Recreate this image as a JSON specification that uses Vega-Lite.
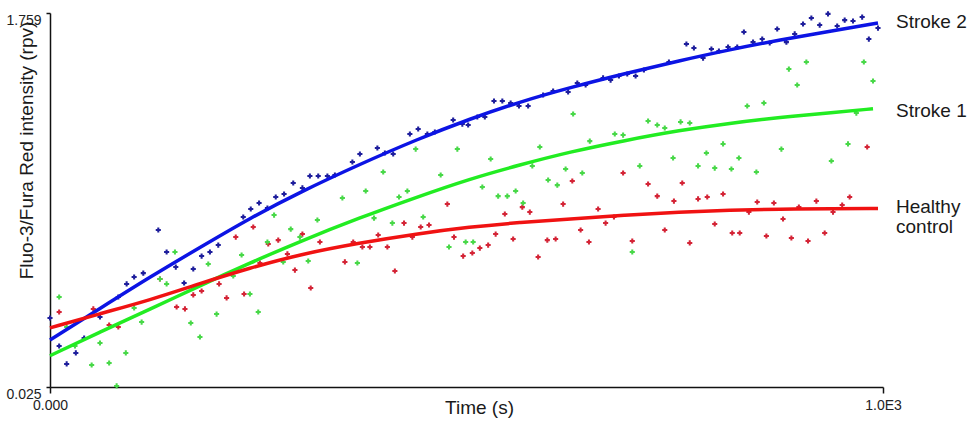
{
  "$schema": "https://vega.github.io/schema/vega-lite/v6.json",
  "autosize": {"type": "none"},
  "width": 833,
  "height": 374,
  "padding": {"left": 50, "top": 13, "right": 93, "bottom": 34},
  "background": "white",
  "config": {
    "view": {"stroke": null},
    "font": "Liberation Sans",
    "axis": {"grid": false, "domainColor": "#111", "domainWidth": 1.5, "tickColor": "#111", "tickWidth": 1.5, "labelColor": "#222", "titleColor": "#1a1a1a", "labelFont": "Liberation Sans", "titleFont": "Liberation Sans", "titleFontWeight": "normal"}
  },
  "datasets": {
    "curves": [
      {"series": "Stroke 2", "t": 0, "v": 0.243}, {"series": "Stroke 2", "t": 60, "v": 0.389}, {"series": "Stroke 2", "t": 120, "v": 0.535}, {"series": "Stroke 2", "t": 180, "v": 0.672}, {"series": "Stroke 2", "t": 240, "v": 0.808}, {"series": "Stroke 2", "t": 300, "v": 0.928}, {"series": "Stroke 2", "t": 372, "v": 1.058}, {"series": "Stroke 2", "t": 440, "v": 1.172}, {"series": "Stroke 2", "t": 504, "v": 1.268}, {"series": "Stroke 2", "t": 564, "v": 1.347}, {"series": "Stroke 2", "t": 624, "v": 1.413}, {"series": "Stroke 2", "t": 690, "v": 1.478}, {"series": "Stroke 2", "t": 756, "v": 1.538}, {"series": "Stroke 2", "t": 816, "v": 1.589}, {"series": "Stroke 2", "t": 876, "v": 1.634}, {"series": "Stroke 2", "t": 940, "v": 1.677}, {"series": "Stroke 2", "t": 994, "v": 1.713},
      {"series": "Stroke 1", "t": 0, "v": 0.17}, {"series": "Stroke 1", "t": 60, "v": 0.28}, {"series": "Stroke 1", "t": 120, "v": 0.385}, {"series": "Stroke 1", "t": 180, "v": 0.495}, {"series": "Stroke 1", "t": 240, "v": 0.6}, {"series": "Stroke 1", "t": 300, "v": 0.7}, {"series": "Stroke 1", "t": 372, "v": 0.81}, {"series": "Stroke 1", "t": 440, "v": 0.905}, {"series": "Stroke 1", "t": 504, "v": 0.99}, {"series": "Stroke 1", "t": 564, "v": 1.055}, {"series": "Stroke 1", "t": 624, "v": 1.115}, {"series": "Stroke 1", "t": 690, "v": 1.168}, {"series": "Stroke 1", "t": 756, "v": 1.215}, {"series": "Stroke 1", "t": 816, "v": 1.248}, {"series": "Stroke 1", "t": 876, "v": 1.275}, {"series": "Stroke 1", "t": 940, "v": 1.298}, {"series": "Stroke 1", "t": 988, "v": 1.315},
      {"series": "Healthy control", "t": 0, "v": 0.299}, {"series": "Healthy control", "t": 60, "v": 0.365}, {"series": "Healthy control", "t": 120, "v": 0.428}, {"series": "Healthy control", "t": 180, "v": 0.505}, {"series": "Healthy control", "t": 240, "v": 0.577}, {"series": "Healthy control", "t": 300, "v": 0.64}, {"series": "Healthy control", "t": 372, "v": 0.693}, {"series": "Healthy control", "t": 440, "v": 0.735}, {"series": "Healthy control", "t": 504, "v": 0.767}, {"series": "Healthy control", "t": 564, "v": 0.788}, {"series": "Healthy control", "t": 624, "v": 0.804}, {"series": "Healthy control", "t": 690, "v": 0.822}, {"series": "Healthy control", "t": 756, "v": 0.836}, {"series": "Healthy control", "t": 816, "v": 0.845}, {"series": "Healthy control", "t": 876, "v": 0.85}, {"series": "Healthy control", "t": 940, "v": 0.852}, {"series": "Healthy control", "t": 994, "v": 0.853}
    ],
    "dots": [
      {"series": "Stroke 2", "t": 0, "v": 0.345}, {"series": "Stroke 2", "t": 11, "v": 0.215}, {"series": "Stroke 2", "t": 20, "v": 0.132}, {"series": "Stroke 2", "t": 31, "v": 0.183}, {"series": "Stroke 2", "t": 41, "v": 0.252}, {"series": "Stroke 2", "t": 60, "v": 0.35}, {"series": "Stroke 2", "t": 82, "v": 0.442}, {"series": "Stroke 2", "t": 92, "v": 0.503}, {"series": "Stroke 2", "t": 101, "v": 0.535}, {"series": "Stroke 2", "t": 112, "v": 0.553}, {"series": "Stroke 2", "t": 130, "v": 0.753}, {"series": "Stroke 2", "t": 140, "v": 0.651}, {"series": "Stroke 2", "t": 151, "v": 0.581}, {"series": "Stroke 2", "t": 161, "v": 0.507}, {"series": "Stroke 2", "t": 172, "v": 0.572}, {"series": "Stroke 2", "t": 182, "v": 0.632}, {"series": "Stroke 2", "t": 192, "v": 0.651}, {"series": "Stroke 2", "t": 202, "v": 0.683}, {"series": "Stroke 2", "t": 232, "v": 0.813}, {"series": "Stroke 2", "t": 241, "v": 0.85}, {"series": "Stroke 2", "t": 251, "v": 0.878}, {"series": "Stroke 2", "t": 261, "v": 0.855}, {"series": "Stroke 2", "t": 271, "v": 0.906}, {"series": "Stroke 2", "t": 281, "v": 0.92}, {"series": "Stroke 2", "t": 292, "v": 0.971}, {"series": "Stroke 2", "t": 303, "v": 0.948}, {"series": "Stroke 2", "t": 312, "v": 1.003}, {"series": "Stroke 2", "t": 322, "v": 1.003}, {"series": "Stroke 2", "t": 333, "v": 1.003}, {"series": "Stroke 2", "t": 342, "v": 1.008}, {"series": "Stroke 2", "t": 363, "v": 1.068}, {"series": "Stroke 2", "t": 372, "v": 1.105}, {"series": "Stroke 2", "t": 393, "v": 1.133}, {"series": "Stroke 2", "t": 402, "v": 1.11}, {"series": "Stroke 2", "t": 412, "v": 1.105}, {"series": "Stroke 2", "t": 432, "v": 1.198}, {"series": "Stroke 2", "t": 442, "v": 1.221}, {"series": "Stroke 2", "t": 453, "v": 1.198}, {"series": "Stroke 2", "t": 462, "v": 1.207}, {"series": "Stroke 2", "t": 484, "v": 1.263}, {"series": "Stroke 2", "t": 495, "v": 1.244}, {"series": "Stroke 2", "t": 502, "v": 1.24}, {"series": "Stroke 2", "t": 513, "v": 1.277}, {"series": "Stroke 2", "t": 522, "v": 1.277}, {"series": "Stroke 2", "t": 533, "v": 1.351}, {"series": "Stroke 2", "t": 543, "v": 1.351}, {"series": "Stroke 2", "t": 553, "v": 1.342}, {"series": "Stroke 2", "t": 563, "v": 1.328}, {"series": "Stroke 2", "t": 574, "v": 1.328}, {"series": "Stroke 2", "t": 592, "v": 1.379}, {"series": "Stroke 2", "t": 604, "v": 1.397}, {"series": "Stroke 2", "t": 622, "v": 1.393}, {"series": "Stroke 2", "t": 633, "v": 1.434}, {"series": "Stroke 2", "t": 643, "v": 1.425}, {"series": "Stroke 2", "t": 664, "v": 1.458}, {"series": "Stroke 2", "t": 673, "v": 1.448}, {"series": "Stroke 2", "t": 683, "v": 1.467}, {"series": "Stroke 2", "t": 693, "v": 1.476}, {"series": "Stroke 2", "t": 703, "v": 1.467}, {"series": "Stroke 2", "t": 713, "v": 1.495}, {"series": "Stroke 2", "t": 743, "v": 1.532}, {"series": "Stroke 2", "t": 764, "v": 1.615}, {"series": "Stroke 2", "t": 773, "v": 1.597}, {"series": "Stroke 2", "t": 784, "v": 1.55}, {"series": "Stroke 2", "t": 794, "v": 1.592}, {"series": "Stroke 2", "t": 803, "v": 1.583}, {"series": "Stroke 2", "t": 814, "v": 1.601}, {"series": "Stroke 2", "t": 825, "v": 1.601}, {"series": "Stroke 2", "t": 833, "v": 1.671}, {"series": "Stroke 2", "t": 844, "v": 1.624}, {"series": "Stroke 2", "t": 855, "v": 1.638}, {"series": "Stroke 2", "t": 864, "v": 1.62}, {"series": "Stroke 2", "t": 873, "v": 1.685}, {"series": "Stroke 2", "t": 884, "v": 1.624}, {"series": "Stroke 2", "t": 894, "v": 1.662}, {"series": "Stroke 2", "t": 904, "v": 1.708}, {"series": "Stroke 2", "t": 914, "v": 1.736}, {"series": "Stroke 2", "t": 924, "v": 1.703}, {"series": "Stroke 2", "t": 934, "v": 1.755}, {"series": "Stroke 2", "t": 945, "v": 1.699}, {"series": "Stroke 2", "t": 954, "v": 1.726}, {"series": "Stroke 2", "t": 964, "v": 1.722}, {"series": "Stroke 2", "t": 975, "v": 1.74}, {"series": "Stroke 2", "t": 983, "v": 1.638}, {"series": "Stroke 2", "t": 994, "v": 1.689},
      {"series": "Healthy control", "t": 11, "v": 0.373}, {"series": "Healthy control", "t": 52, "v": 0.387}, {"series": "Healthy control", "t": 71, "v": 0.312}, {"series": "Healthy control", "t": 82, "v": 0.303}, {"series": "Healthy control", "t": 132, "v": 0.526}, {"series": "Healthy control", "t": 152, "v": 0.396}, {"series": "Healthy control", "t": 162, "v": 0.387}, {"series": "Healthy control", "t": 172, "v": 0.452}, {"series": "Healthy control", "t": 182, "v": 0.47}, {"series": "Healthy control", "t": 203, "v": 0.503}, {"series": "Healthy control", "t": 212, "v": 0.438}, {"series": "Healthy control", "t": 223, "v": 0.72}, {"series": "Healthy control", "t": 233, "v": 0.456}, {"series": "Healthy control", "t": 244, "v": 0.767}, {"series": "Healthy control", "t": 252, "v": 0.6}, {"series": "Healthy control", "t": 262, "v": 0.688}, {"series": "Healthy control", "t": 274, "v": 0.706}, {"series": "Healthy control", "t": 285, "v": 0.642}, {"series": "Healthy control", "t": 294, "v": 0.567}, {"series": "Healthy control", "t": 303, "v": 0.734}, {"series": "Healthy control", "t": 313, "v": 0.484}, {"series": "Healthy control", "t": 324, "v": 0.697}, {"series": "Healthy control", "t": 354, "v": 0.605}, {"series": "Healthy control", "t": 364, "v": 0.697}, {"series": "Healthy control", "t": 375, "v": 0.674}, {"series": "Healthy control", "t": 384, "v": 0.674}, {"series": "Healthy control", "t": 394, "v": 0.73}, {"series": "Healthy control", "t": 405, "v": 0.674}, {"series": "Healthy control", "t": 414, "v": 0.563}, {"series": "Healthy control", "t": 425, "v": 0.785}, {"series": "Healthy control", "t": 435, "v": 0.72}, {"series": "Healthy control", "t": 445, "v": 0.767}, {"series": "Healthy control", "t": 455, "v": 0.776}, {"series": "Healthy control", "t": 477, "v": 0.873}, {"series": "Healthy control", "t": 485, "v": 0.72}, {"series": "Healthy control", "t": 496, "v": 0.632}, {"series": "Healthy control", "t": 507, "v": 0.646}, {"series": "Healthy control", "t": 516, "v": 0.669}, {"series": "Healthy control", "t": 526, "v": 0.683}, {"series": "Healthy control", "t": 535, "v": 0.734}, {"series": "Healthy control", "t": 546, "v": 0.827}, {"series": "Healthy control", "t": 556, "v": 0.711}, {"series": "Healthy control", "t": 567, "v": 0.859}, {"series": "Healthy control", "t": 576, "v": 0.836}, {"series": "Healthy control", "t": 586, "v": 0.628}, {"series": "Healthy control", "t": 597, "v": 0.706}, {"series": "Healthy control", "t": 607, "v": 0.711}, {"series": "Healthy control", "t": 616, "v": 0.873}, {"series": "Healthy control", "t": 627, "v": 0.98}, {"series": "Healthy control", "t": 637, "v": 0.753}, {"series": "Healthy control", "t": 647, "v": 0.697}, {"series": "Healthy control", "t": 658, "v": 0.85}, {"series": "Healthy control", "t": 667, "v": 0.785}, {"series": "Healthy control", "t": 677, "v": 0.813}, {"series": "Healthy control", "t": 688, "v": 1.017}, {"series": "Healthy control", "t": 699, "v": 0.702}, {"series": "Healthy control", "t": 718, "v": 0.966}, {"series": "Healthy control", "t": 729, "v": 0.91}, {"series": "Healthy control", "t": 738, "v": 0.753}, {"series": "Healthy control", "t": 749, "v": 0.887}, {"series": "Healthy control", "t": 759, "v": 0.971}, {"series": "Healthy control", "t": 768, "v": 0.693}, {"series": "Healthy control", "t": 778, "v": 0.897}, {"series": "Healthy control", "t": 789, "v": 0.906}, {"series": "Healthy control", "t": 798, "v": 0.781}, {"series": "Healthy control", "t": 808, "v": 0.92}, {"series": "Healthy control", "t": 819, "v": 0.739}, {"series": "Healthy control", "t": 828, "v": 0.739}, {"series": "Healthy control", "t": 839, "v": 0.836}, {"series": "Healthy control", "t": 849, "v": 0.883}, {"series": "Healthy control", "t": 860, "v": 0.725}, {"series": "Healthy control", "t": 869, "v": 0.878}, {"series": "Healthy control", "t": 880, "v": 0.804}, {"series": "Healthy control", "t": 890, "v": 0.716}, {"series": "Healthy control", "t": 899, "v": 0.859}, {"series": "Healthy control", "t": 910, "v": 0.702}, {"series": "Healthy control", "t": 920, "v": 0.887}, {"series": "Healthy control", "t": 930, "v": 0.739}, {"series": "Healthy control", "t": 940, "v": 0.836}, {"series": "Healthy control", "t": 951, "v": 0.869}, {"series": "Healthy control", "t": 960, "v": 0.906}, {"series": "Healthy control", "t": 981, "v": 1.138},
      {"series": "Stroke 1", "t": 11, "v": 0.442}, {"series": "Stroke 1", "t": 20, "v": 0.303}, {"series": "Stroke 1", "t": 30, "v": 0.215}, {"series": "Stroke 1", "t": 50, "v": 0.127}, {"series": "Stroke 1", "t": 60, "v": 0.229}, {"series": "Stroke 1", "t": 71, "v": 0.136}, {"series": "Stroke 1", "t": 80, "v": 0.03}, {"series": "Stroke 1", "t": 91, "v": 0.183}, {"series": "Stroke 1", "t": 101, "v": 0.391}, {"series": "Stroke 1", "t": 110, "v": 0.326}, {"series": "Stroke 1", "t": 132, "v": 0.526}, {"series": "Stroke 1", "t": 140, "v": 0.503}, {"series": "Stroke 1", "t": 150, "v": 0.651}, {"series": "Stroke 1", "t": 169, "v": 0.322}, {"series": "Stroke 1", "t": 180, "v": 0.257}, {"series": "Stroke 1", "t": 190, "v": 0.595}, {"series": "Stroke 1", "t": 200, "v": 0.363}, {"series": "Stroke 1", "t": 220, "v": 0.54}, {"series": "Stroke 1", "t": 230, "v": 0.637}, {"series": "Stroke 1", "t": 240, "v": 0.456}, {"series": "Stroke 1", "t": 250, "v": 0.373}, {"series": "Stroke 1", "t": 261, "v": 0.697}, {"series": "Stroke 1", "t": 269, "v": 0.822}, {"series": "Stroke 1", "t": 280, "v": 0.605}, {"series": "Stroke 1", "t": 289, "v": 0.757}, {"series": "Stroke 1", "t": 300, "v": 0.72}, {"series": "Stroke 1", "t": 310, "v": 0.609}, {"series": "Stroke 1", "t": 321, "v": 0.799}, {"series": "Stroke 1", "t": 351, "v": 0.901}, {"series": "Stroke 1", "t": 369, "v": 0.6}, {"series": "Stroke 1", "t": 379, "v": 0.934}, {"series": "Stroke 1", "t": 389, "v": 0.808}, {"series": "Stroke 1", "t": 400, "v": 1.022}, {"series": "Stroke 1", "t": 411, "v": 0.785}, {"series": "Stroke 1", "t": 419, "v": 0.906}, {"series": "Stroke 1", "t": 429, "v": 0.934}, {"series": "Stroke 1", "t": 439, "v": 1.128}, {"series": "Stroke 1", "t": 448, "v": 0.813}, {"series": "Stroke 1", "t": 469, "v": 1.008}, {"series": "Stroke 1", "t": 479, "v": 0.674}, {"series": "Stroke 1", "t": 489, "v": 1.128}, {"series": "Stroke 1", "t": 499, "v": 0.697}, {"series": "Stroke 1", "t": 508, "v": 0.697}, {"series": "Stroke 1", "t": 519, "v": 0.952}, {"series": "Stroke 1", "t": 529, "v": 1.082}, {"series": "Stroke 1", "t": 538, "v": 0.91}, {"series": "Stroke 1", "t": 549, "v": 0.91}, {"series": "Stroke 1", "t": 559, "v": 0.934}, {"series": "Stroke 1", "t": 568, "v": 0.878}, {"series": "Stroke 1", "t": 579, "v": 1.05}, {"series": "Stroke 1", "t": 588, "v": 1.138}, {"series": "Stroke 1", "t": 598, "v": 0.985}, {"series": "Stroke 1", "t": 609, "v": 0.961}, {"series": "Stroke 1", "t": 619, "v": 1.036}, {"series": "Stroke 1", "t": 628, "v": 1.291}, {"series": "Stroke 1", "t": 639, "v": 1.017}, {"series": "Stroke 1", "t": 648, "v": 1.165}, {"series": "Stroke 1", "t": 678, "v": 1.198}, {"series": "Stroke 1", "t": 688, "v": 1.193}, {"series": "Stroke 1", "t": 699, "v": 0.651}, {"series": "Stroke 1", "t": 708, "v": 1.05}, {"series": "Stroke 1", "t": 718, "v": 1.258}, {"series": "Stroke 1", "t": 729, "v": 1.24}, {"series": "Stroke 1", "t": 738, "v": 1.226}, {"series": "Stroke 1", "t": 748, "v": 1.087}, {"series": "Stroke 1", "t": 757, "v": 1.254}, {"series": "Stroke 1", "t": 768, "v": 1.249}, {"series": "Stroke 1", "t": 778, "v": 1.05}, {"series": "Stroke 1", "t": 788, "v": 1.11}, {"series": "Stroke 1", "t": 798, "v": 1.04}, {"series": "Stroke 1", "t": 808, "v": 1.152}, {"series": "Stroke 1", "t": 818, "v": 1.036}, {"series": "Stroke 1", "t": 827, "v": 1.087}, {"series": "Stroke 1", "t": 837, "v": 1.328}, {"series": "Stroke 1", "t": 848, "v": 1.022}, {"series": "Stroke 1", "t": 857, "v": 1.342}, {"series": "Stroke 1", "t": 878, "v": 1.128}, {"series": "Stroke 1", "t": 887, "v": 1.499}, {"series": "Stroke 1", "t": 897, "v": 1.425}, {"series": "Stroke 1", "t": 908, "v": 1.532}, {"series": "Stroke 1", "t": 938, "v": 1.073}, {"series": "Stroke 1", "t": 958, "v": 1.152}, {"series": "Stroke 1", "t": 968, "v": 1.295}, {"series": "Stroke 1", "t": 977, "v": 1.532}, {"series": "Stroke 1", "t": 988, "v": 1.444}
    ],
    "labels": [
      {"label": "Stroke 2", "t": 1000, "v": 1.719},
      {"label": "Stroke 1", "t": 1000, "v": 1.305},
      {"label": "Healthy\ncontrol", "t": 1000, "v": 0.859}
    ]
  },
  "layer": [
    {
      "data": {"name": "dots"},
      "mark": {"type": "point", "shape": "cross", "filled": true, "size": 26, "opacity": 1},
      "encoding": {
        "x": {"field": "t", "type": "quantitative", "scale": {"domain": [0, 1000], "nice": false, "zero": false},
          "axis": {"values": [0, 1000], "labelExpr": "datum.value == 0 ? '0.000' : '1.0E3'", "labelFontSize": 14, "labelPadding": 5, "tickSize": 6, "labelFlush": false, "title": "Time (s)", "titleFontSize": 19, "titleX": 429, "titleY": 20, "titleBaseline": "middle", "titleAnchor": null}},
        "y": {"field": "v", "type": "quantitative", "scale": {"domain": [0.025, 1.759], "nice": false, "zero": false},
          "axis": {"values": [0.025, 1.759], "labelExpr": "format(datum.value, '.3f')", "labelFontSize": 14, "labelPadding": 5, "tickSize": 4, "labelBaseline": "top", "labelFlush": false, "title": "Fluo-3/Fura Red intensity (rpv)", "titleFontSize": 19, "titleX": -24, "titleY": 137, "titleAngle": -90, "titleAlign": "center", "titleBaseline": "middle"}},
        "color": {"field": "series", "type": "nominal", "legend": null,
          "scale": {"domain": ["Stroke 2", "Stroke 1", "Healthy control"], "range": ["#1e1e9c", "#48d848", "#d42436"]}}
      }
    },
    {
      "data": {"name": "curves"},
      "mark": {"type": "line", "strokeWidth": 3.5, "interpolate": "basis"},
      "encoding": {
        "x": {"field": "t", "type": "quantitative"},
        "y": {"field": "v", "type": "quantitative"},
        "color": {"field": "series", "type": "nominal", "legend": null,
          "scale": {"domain": ["Stroke 2", "Stroke 1", "Healthy control"], "range": ["#0c14e4", "#22ec22", "#f01212"]}}
      }
    },
    {
      "data": {"name": "labels"},
      "mark": {"type": "text", "align": "left", "baseline": "middle", "dx": 13, "fontSize": 19, "lineBreak": "\n", "lineHeight": 20, "color": "#1a1a1a"},
      "encoding": {
        "x": {"field": "t", "type": "quantitative"},
        "y": {"field": "v", "type": "quantitative"},
        "text": {"field": "label"}
      }
    }
  ],
  "resolve": {"scale": {"color": "independent"}}
}
